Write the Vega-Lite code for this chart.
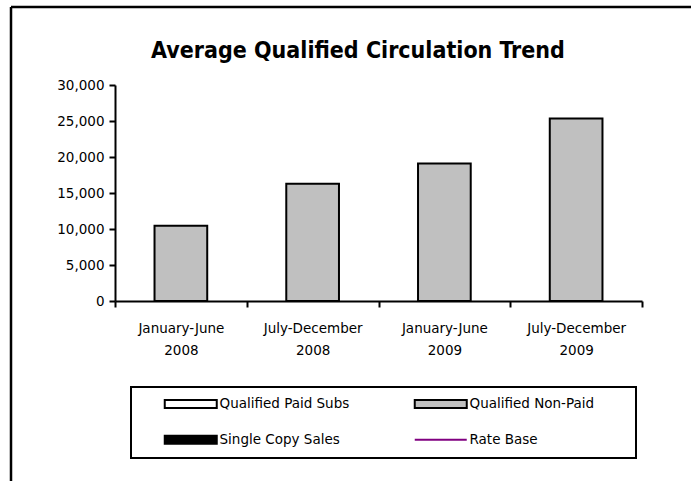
{
  "$schema": "https://vega.github.io/schema/vega-lite/v6.json",
  "width": 680,
  "height": 474,
  "autosize": {"type": "none"},
  "padding": {"left": 11, "top": 7, "right": 0, "bottom": 0},
  "background": "white",
  "config": {
    "view": {"stroke": "black", "strokeWidth": 2.5, "strokeDash": [680, 1154, 474, 0]},
    "font": "DejaVu Sans",
    "legend": {
      "strokeColor": "black",
      "strokeWidth": 2,
      "fillColor": "white",
      "padding": 10,
      "symbolSize": 64,
      "symbolStrokeWidth": 2,
      "symbolStrokeColor": "black",
      "symbolOffset": 43,
      "labelOffset": 22,
      "labelFont": "DejaVu Sans",
      "labelFontSize": 13.5,
      "labelColor": "black",
      "rowPadding": 19,
      "columnPadding": 41
    }
  },
  "title": {
    "text": "Average Qualified Circulation Trend",
    "font": "DejaVu Sans Condensed, Liberation Sans Narrow, Liberation Sans, sans-serif",
    "fontSize": 23,
    "fontWeight": "bold",
    "color": "black",
    "anchor": "middle",
    "frame": "group",
    "offset": -74,
    "baseline": "alphabetic",
    "dx": 7
  },
  "data": {
    "values": [
      {"period": "January-June 2008", "value": 10450, "series": "Qualified Non-Paid"},
      {"period": "July-December 2008", "value": 16300, "series": "Qualified Non-Paid"},
      {"period": "January-June 2009", "value": 19100, "series": "Qualified Non-Paid"},
      {"period": "July-December 2009", "value": 25350, "series": "Qualified Non-Paid"}
    ]
  },
  "mark": {"type": "bar", "width": {"band": 0.4}, "stroke": "black", "strokeWidth": 2},
  "encoding": {
    "x": {
      "field": "period",
      "type": "nominal",
      "sort": null,
      "scale": {"range": [104, 631], "paddingInner": 0, "paddingOuter": 0},
      "axis": {
        "title": null,
        "orient": "bottom",
        "offset": -180,
        "tickBand": "extent",
        "labelExpr": "split(datum.label, ' ')",
        "labelAngle": 0,
        "labelLineHeight": 22,
        "labelPadding": 14,
        "labelFont": "DejaVu Sans",
        "labelFontSize": 13.5,
        "labelColor": "black",
        "domainColor": "black",
        "domainWidth": 2,
        "tickColor": "black",
        "tickWidth": 2,
        "tickSize": 6
      }
    },
    "y": {
      "field": "value",
      "type": "quantitative",
      "scale": {"domain": [0, 30000], "range": [294, 78], "nice": false},
      "axis": {
        "title": null,
        "offset": -104,
        "grid": false,
        "values": [0, 5000, 10000, 15000, 20000, 25000, 30000],
        "format": ",.0f",
        "labelFont": "DejaVu Sans",
        "labelFontSize": 13.5,
        "labelColor": "black",
        "labelPadding": 5,
        "domainColor": "black",
        "domainWidth": 2,
        "tickColor": "black",
        "tickWidth": 2,
        "tickSize": 6
      }
    },
    "color": {
      "field": "series",
      "type": "nominal",
      "scale": {
        "domain": ["Qualified Paid Subs", "Qualified Non-Paid", "Single Copy Sales", "Rate Base"],
        "range": ["white", "#C0C0C0", "black", "purple"]
      },
      "legend": {
        "orient": "none",
        "legendX": 120,
        "legendY": 380,
        "columns": 2,
        "direction": "horizontal",
        "title": " ",
        "titleOrient": "right",
        "titlePadding": 32,
        "symbolType": "M-6.5,-1H6.5V1H-6.5Z",
        "encode": {
          "symbols": {
            "update": {
              "shape": {"signal": "datum.value === 'Rate Base' ? 'M-6.5,0H6.5' : 'M-6.5,-1H6.5V1H-6.5Z'"},
              "stroke": {"signal": "datum.value === 'Rate Base' ? 'purple' : 'black'"},
              "strokeWidth": {"value": 2},
              "opacity": {"value": 1}
            }
          }
        }
      }
    }
  }
}
